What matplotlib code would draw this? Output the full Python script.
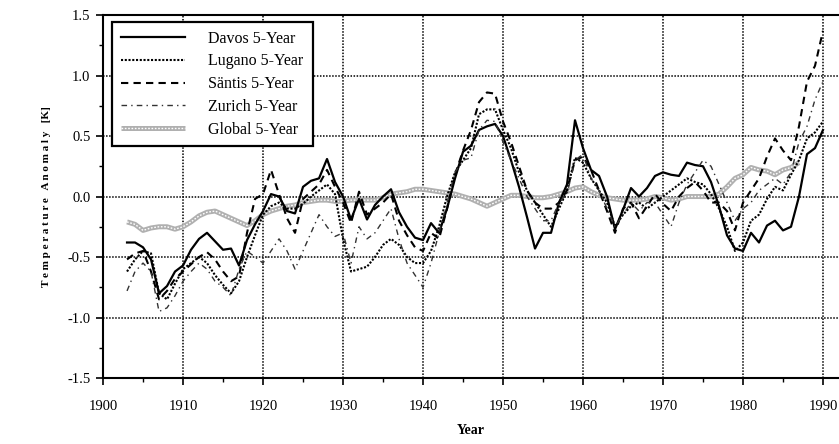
import numpy as np
import matplotlib.pyplot as plt
from matplotlib.ticker import MultipleLocator

plt.rcParams['font.family'] = ['Liberation Serif', 'DejaVu Serif']

# years for the 5-year running means
anios = list(range(1903, 1991))
anios_global = list(range(1903, 1988))

davos = [-0.38, -0.38, -0.42, -0.52, -0.80, -0.74, -0.62, -0.57, -0.44, -0.35,
         -0.30, -0.37, -0.44, -0.43, -0.57, -0.36, -0.23, -0.12, 0.02, 0.00,
         -0.12, -0.14, 0.08, 0.13, 0.15, 0.31, 0.12, 0.00, -0.19, -0.02,
         -0.19, -0.07, 0.00, 0.06, -0.13, -0.25, -0.34, -0.36, -0.22, -0.30,
         -0.10, 0.15, 0.37, 0.42, 0.55, 0.58, 0.60, 0.50, 0.30, 0.08,
         -0.17, -0.43, -0.30, -0.30, -0.05, 0.10, 0.63, 0.40, 0.22, 0.17,
         0.00, -0.27, -0.11, 0.07, 0.00, 0.07, 0.17, 0.20, 0.18, 0.17,
         0.28, 0.26, 0.25, 0.12, -0.08, -0.32, -0.43, -0.45, -0.30, -0.38,
         -0.24, -0.20, -0.28, -0.25, 0.00, 0.35, 0.40, 0.55]

lugano = [-0.62, -0.52, -0.45, -0.47, -0.80, -0.85, -0.72, -0.60, -0.55, -0.50,
          -0.55, -0.65, -0.73, -0.80, -0.70, -0.50, -0.32, -0.15, -0.08, -0.05,
          -0.10, -0.10, -0.06, 0.00, 0.05, 0.10, 0.02, -0.35, -0.62, -0.60,
          -0.58, -0.50, -0.40, -0.35, -0.40, -0.50, -0.55, -0.55, -0.45, -0.25,
          0.00, 0.20, 0.30, 0.40, 0.68, 0.72, 0.72, 0.55, 0.40, 0.20,
          0.05, -0.05, -0.15, -0.25, -0.10, 0.05, 0.32, 0.28, 0.15, 0.05,
          -0.05, -0.25, -0.15, -0.08, -0.05, -0.10, -0.05, 0.00, 0.05, 0.10,
          0.15, 0.12, 0.10, 0.02, -0.10, -0.25, -0.45, -0.38, -0.20, -0.15,
          -0.02, 0.08, 0.05, 0.18, 0.30, 0.48, 0.53, 0.62]

santis = [-0.52, -0.47, -0.45, -0.62, -0.85, -0.78, -0.68, -0.62, -0.56, -0.50,
          -0.46, -0.52, -0.62, -0.70, -0.66, -0.30, -0.02, 0.02, 0.22, 0.02,
          -0.18, -0.30, -0.02, 0.04, 0.10, 0.22, 0.08, -0.05, -0.22, 0.04,
          -0.15, -0.10, -0.05, 0.02, -0.20, -0.32, -0.42, -0.45, -0.30, -0.35,
          -0.10, 0.18, 0.38, 0.55, 0.78, 0.86, 0.85, 0.62, 0.45, 0.25,
          0.05, -0.05, -0.10, -0.10, -0.05, 0.05, 0.30, 0.33, 0.22, 0.05,
          -0.12, -0.30, -0.10, -0.05, -0.18, -0.08, 0.02, -0.06, -0.12, 0.00,
          0.07, 0.12, 0.05, -0.05, -0.05, -0.12, -0.28, -0.05, 0.05, 0.15,
          0.33, 0.48, 0.38, 0.30, 0.58, 0.95, 1.08, 1.37]

zurich = [-0.78, -0.62, -0.55, -0.62, -0.95, -0.92, -0.82, -0.70, -0.62, -0.55,
          -0.60, -0.70, -0.75, -0.82, -0.60, -0.45, -0.50, -0.55, -0.45, -0.35,
          -0.45, -0.60, -0.45, -0.30, -0.15, -0.25, -0.33, -0.30, -0.55, -0.25,
          -0.35, -0.30, -0.20, -0.10, -0.35, -0.55, -0.65, -0.75, -0.55, -0.30,
          -0.05, 0.20, 0.30, 0.32, 0.55, 0.63, 0.62, 0.45, 0.30, 0.15,
          0.00, -0.10, -0.20, -0.20, -0.05, 0.02, 0.30, 0.35, 0.15, 0.05,
          -0.10, -0.25, -0.15, -0.05, -0.12, -0.05, -0.05, -0.15, -0.25, -0.05,
          0.10, 0.20, 0.30, 0.25, 0.10, -0.05, -0.20, -0.10, -0.05, 0.05,
          0.10, 0.15, 0.10, 0.20, 0.45, 0.58, 0.80, 0.95]

global_ = [-0.21, -0.23, -0.28, -0.26, -0.25, -0.25, -0.27, -0.25, -0.21, -0.16,
           -0.13, -0.12, -0.15, -0.18, -0.21, -0.24, -0.20, -0.15, -0.12, -0.10,
           -0.08, -0.07, -0.05, -0.04, -0.03, -0.03, -0.04, -0.04, -0.03, -0.03,
           -0.03, -0.03, -0.01, 0.02, 0.03, 0.04, 0.06, 0.06, 0.05, 0.04,
           0.03, 0.02, 0.00, -0.02, -0.05, -0.08, -0.05, -0.02, 0.01, 0.01,
           0.00, -0.01, -0.01, 0.00, 0.02, 0.04, 0.07, 0.08, 0.04, 0.01,
           -0.01, -0.02, -0.03, -0.03, -0.03, -0.02, 0.00, -0.01, -0.03, -0.02,
           0.00, 0.00, 0.00, 0.00, 0.02, 0.08, 0.15, 0.18, 0.24, 0.22,
           0.21, 0.18, 0.22, 0.24, 0.28]

etiquetas = ['Davos 5-Year', 'Lugano 5-Year', 'Säntis 5-Year', 'Zurich 5-Year', 'Global 5-Year']

fig = plt.figure(figsize=(8.39, 4.44), dpi=100)
ax = fig.add_axes([0.1228, 0.1486, 0.8772, 0.8176])

# global: thick grey beaded line
g1, = ax.plot(anios_global, global_, color='#b0b0b0', lw=3.6, solid_capstyle='butt', zorder=2)
g2, = ax.plot(anios_global, global_, color='white', lw=1.0, linestyle=(0, (1.2, 1.2)), zorder=2)

l_dav, = ax.plot(anios, davos, color='black', lw=1.6, zorder=3)
l_lug, = ax.plot(anios, lugano, color='black', lw=1.5, linestyle=(0, (1, 0.8)), zorder=3)
l_san, = ax.plot(anios, santis, color='black', lw=1.5, linestyle=(0, (3.5, 2.5)), zorder=3)
l_zur, = ax.plot(anios, zurich, color='#333333', lw=1.0, linestyle=(0, (4, 3, 1, 3)), zorder=3)

ax.set_xlim(1900, 1992)
ax.set_ylim(-1.5, 1.5)
ax.xaxis.set_major_locator(MultipleLocator(10))
ax.xaxis.set_minor_locator(MultipleLocator(5))
ax.yaxis.set_major_locator(MultipleLocator(0.5))
ax.yaxis.set_minor_locator(MultipleLocator(0.25))
ax.yaxis.set_major_formatter(plt.FuncFormatter(lambda v, p: f'{v:.1f}'))

ax.grid(True, which='major', color='black', lw=1.1, linestyle=(0, (1, 1)), zorder=1)
ax.set_axisbelow(True)
ax.tick_params(axis='both', which='major', direction='out', length=5, width=1.2, labelsize=10.5)
ax.tick_params(axis='both', which='minor', direction='out', length=3, width=1.0)
ax.tick_params(axis='x', which='major', pad=11)
ax.tick_params(axis='y', which='major', pad=4)

for lado in ['left', 'bottom', 'top']:
    ax.spines[lado].set_linewidth(1.5)
ax.spines['right'].set_visible(False)

ax.set_xlabel('Year', fontsize=10, fontweight='bold', labelpad=8)
ax.set_ylabel('T e m p e r a t u r e   A n o m a l y   [K]', fontsize=8, fontweight='bold', labelpad=12)

leg = ax.legend([l_dav, l_lug, l_san, l_zur, (g1, g2)], etiquetas,
                loc='upper left', bbox_to_anchor=(0.012, 0.981), borderaxespad=0,
                fontsize=11.5, handlelength=4.0, handletextpad=1.5, labelspacing=0.42,
                borderpad=0.55, fancybox=False, framealpha=1, edgecolor='black')
leg.get_frame().set_linewidth(1.6)

plt.savefig('out.png', dpi=100)
